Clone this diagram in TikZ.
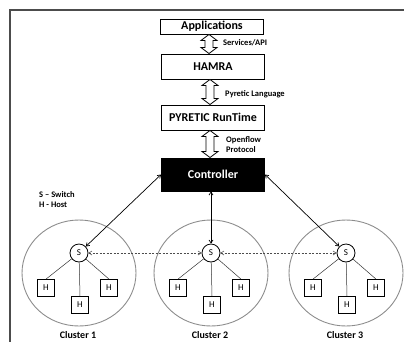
\documentclass[tikz,border=0pt]{standalone}
\usepackage{fontspec}
\setmainfont{Carlito}
\usetikzlibrary{arrows.meta,calc,shapes.geometric}

\tikzset{
  layer/.style={draw, line width=0.9pt, minimum width=103pt, inner sep=0pt,
    font=\fontsize{12}{14}\selectfont\bfseries},
  darklayer/.style={layer, fill=black, text=white},
  tag/.style={anchor=west, inner sep=0pt, font=\fontsize{8.5}{10}\selectfont\bfseries},
  blockarrow/.style={draw, fill=white, line width=0.8pt, line join=miter},
  cluster/.style={draw=black!45, line width=0.9pt, ellipse, minimum width=114pt, minimum height=106pt},
  switch/.style={draw, circle, line width=0.8pt, minimum size=18pt, inner sep=0pt,
    font=\fontsize{9}{10}\selectfont},
  host/.style={draw, line width=0.8pt, minimum size=17pt, inner sep=0pt,
    font=\fontsize{9}{10}\selectfont},
  hostlink/.style={black!80, line width=0.5pt},
  ctrllink/.style={line width=0.7pt, {Straight Barb[length=3pt,width=4pt]}-{Straight Barb[length=3pt,width=4pt]}},
  peerlink/.style={black!70, line width=0.6pt, dash pattern=on 2pt off 1.5pt,
    {Straight Barb[length=3pt,width=4pt]}-{Straight Barb[length=3pt,width=4pt]}},
  clustername/.style={inner sep=0pt, font=\fontsize{10}{12}\selectfont\bfseries},
}

% hollow two-headed block arrow between the bottom of #1 and the top of #2
\newcommand{\stackarrow}[3]{%
  \draw[blockarrow] let \p1=($(#1.south)+(#3,0)$), \p2=($(#2.north)+(#3,0)$) in
    (\x1,\y1) -- (\x1+8pt,\y1-6pt) -- (\x1+4pt,\y1-6pt) -- (\x1+4pt,\y2+6pt)
    -- (\x1+8pt,\y2+6pt) -- (\x1,\y2) -- (\x1-8pt,\y2+6pt) -- (\x1-4pt,\y2+6pt)
    -- (\x1-4pt,\y1-6pt) -- (\x1-8pt,\y1-6pt) -- cycle;}

\begin{document}
\begin{tikzpicture}[x=1pt, y=-1pt]
\useasboundingbox (0,0) rectangle (404,341);

% outer frame
\draw[line width=1.6pt, black!70] (10,345) -- (10,10) -- (410,10);

% software stack
\node[layer, minimum height=15pt] (app)  at (212,26.5) {Applications};
\node[layer, minimum height=25pt] (hamra) at (213,66.5) {HAMRA};
\node[layer, minimum height=25pt] (pyr)  at (213,117.5) {PYRETIC RunTime};
\node[darklayer, minimum height=33pt] (ctrl) at (213,174.5) {Controller};

\stackarrow{app}{hamra}{-3pt}
\stackarrow{hamra}{pyr}{-3pt}
\stackarrow{pyr}{ctrl}{-3pt}

\node[tag] (lbl1) at (223,43) {Services/API};
\node[tag] (lbl2) at (225,94) {Pyretic Language};
\node[tag, align=left] (lbl3) at (226,145) {Openflow\\Protocol};

% legend
\node[tag, align=left, anchor=north west] (legend) at (39,191) {S -- Switch\\H - Host};

% clusters
\foreach \i/\cx in {1/79, 2/211, 3/346} {
  \node[cluster] (c\i) at (\cx,273) {};
  \node[switch, fill=white] (s\i) at (\cx,253) {S};
  \node[host] (h\i a) at (\cx-33,288) {H};
  \node[host] (h\i b) at (\cx+30,288) {H};
  \node[host] (h\i c) at (\cx+1,305) {H};
  \draw[hostlink] (s\i) -- (h\i a.north);
  \draw[hostlink] (s\i) -- (h\i b.north);
  \draw[hostlink] (s\i) -- (h\i c.north);
  \node[clustername] (n\i) at (\cx-1,335) {Cluster \i};
}

% control channels
\draw[ctrllink] (ctrl.west) -- (s1);
\draw[ctrllink] (ctrl.south -| s2) -- (s2);
\draw[ctrllink] (ctrl.east) -- (s3);

% switch-to-switch links
\draw[peerlink] (s1) -- (s2);
\draw[peerlink] (s2) -- (s3);

\end{tikzpicture}
\end{document}
